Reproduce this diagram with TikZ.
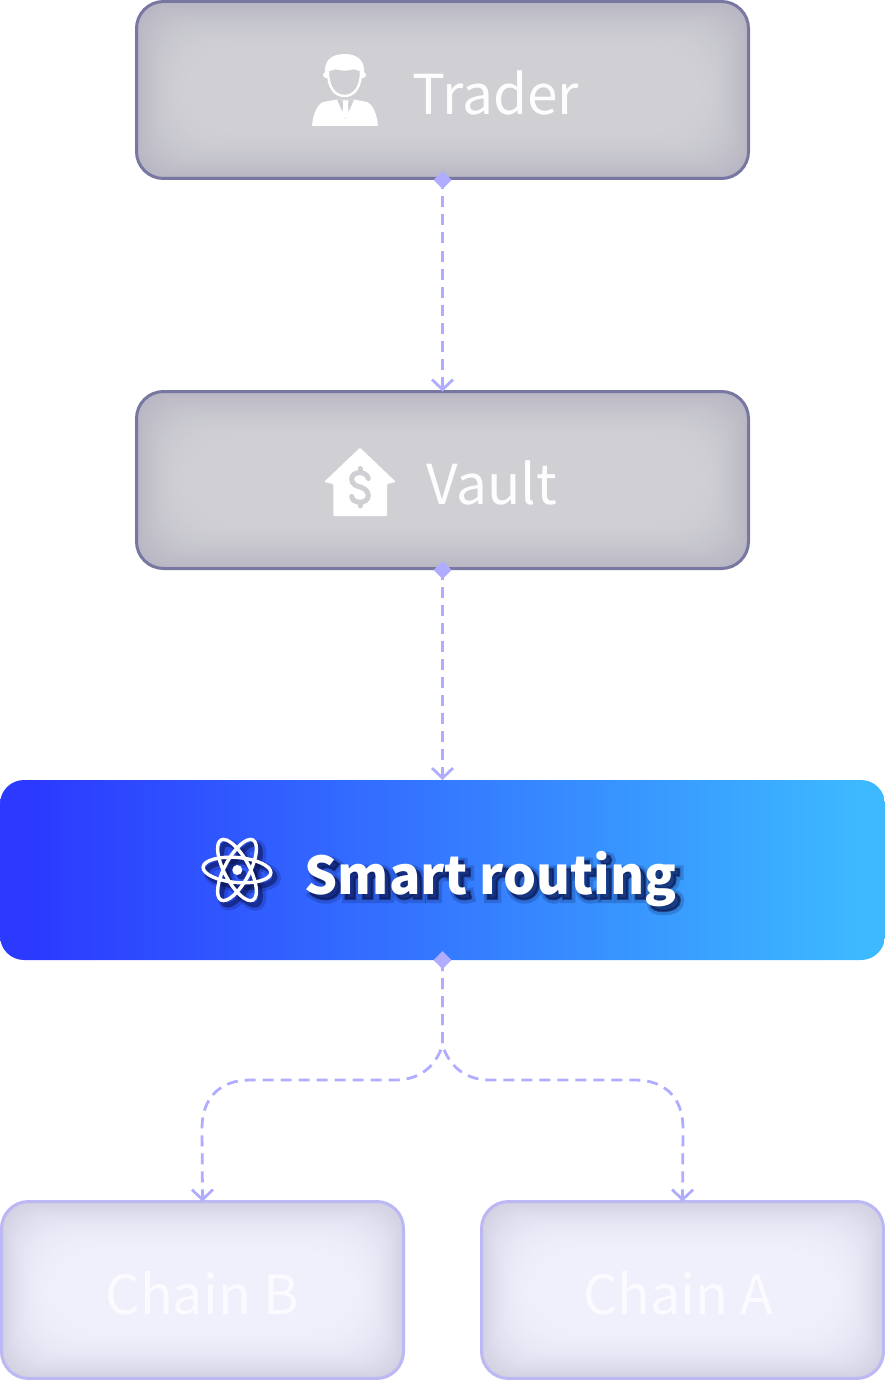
\documentclass[tikz,border=0pt]{standalone}
\usepackage{fontspec}
\setmainfont{Noto Sans CJK SC}
\usetikzlibrary{arrows.meta,shapes.geometric}
\definecolor{flow}{HTML}{B0ACFF}
\definecolor{edgeDark}{HTML}{7877A1}
\definecolor{edgeLight}{HTML}{BBB8F3}
\definecolor{grayA}{HTML}{B7B6C2}
\definecolor{grayB}{HTML}{CFCFD4}
\definecolor{paleA}{HTML}{D1D1E3}
\definecolor{paleB}{HTML}{F0F0FC}
\definecolor{blueL}{HTML}{2C3AFF}
\definecolor{blueR}{HTML}{3DB9FF}
\definecolor{shadowC}{HTML}{081048}
\definecolor{labelA}{HTML}{FDFDFD}
\definecolor{labelB}{HTML}{FAFAFF}
\pgfdeclarehorizontalshading{smartgrad}{100bp}{color(0bp)=(blueL); color(27bp)=(blueL); color(73.5bp)=(blueR); color(100bp)=(blueR)}
\newcommand{\glowfill}[6]{%
  \foreach \i in {0,...,22}{%
    \pgfmathsetmacro{\ins}{2.4*\i}%
    \pgfmathsetmacro{\p}{100*(1-(1-\i/22)^2)}%
    \pgfmathsetmacro{\rr}{27+1.4*\i}%
    \fill[#5!\p!#6,rounded corners=\rr pt] ({#1+\ins},{#2+\ins}) rectangle ({#3-\ins},{#4-\ins});
  }%
}
\newcommand{\atomshape}[2]{%
  \draw[#1,line width=#2pt] (237,870) ellipse[x radius=34,y radius=12.5,rotate=-5];
  \draw[#1,line width=#2pt] (237,870) ellipse[x radius=34,y radius=12.5,rotate=62];
  \draw[#1,line width=#2pt] (237,870) ellipse[x radius=34,y radius=12.5,rotate=118];
  \fill[#1] (237.3,870) circle (5);
}
\tikzset{
  card/.style={rounded corners=27pt,line width=3pt,minimum height=177pt,inner sep=0pt,outer sep=0pt},
  darkcard/.style={card,draw=edgeDark,minimum width=612pt},
  lightcard/.style={card,draw=edgeLight,minimum width=402pt},
  port/.style={diamond,fill=flow,minimum width=18pt,minimum height=18pt,inner sep=0pt,outer sep=0pt},
  flowline/.style={draw=flow,line width=2.8pt,dash pattern=on 11pt off 7pt,-{Straight Barb[length=10pt,width=21pt,line width=2.8pt]}},
  label/.style={font=\fontsize{55}{60}\selectfont,anchor=base west,inner sep=0pt},
  chainlabel/.style={label,font=\fontsize{54}{60}\selectfont},
  boldlabel/.style={label,font=\fontsize{52}{60}\selectfont\bfseries},
}
\begin{document}
\begin{tikzpicture}[x=1pt,y=-1pt]
\useasboundingbox (0,0) rectangle (885,1380);
% card fills
\glowfill{136}{1}{749}{179}{grayB}{grayA}
\glowfill{136}{391}{749}{569}{grayB}{grayA}
\glowfill{1}{1201}{404}{1379}{paleB}{paleA}
\glowfill{481}{1201}{884}{1379}{paleB}{paleA}
% cards
\node[darkcard] (trader) at (442.5,90) {};
\node[darkcard] (vault) at (442.5,480) {};
\node[rounded corners=24pt,minimum width=885pt,minimum height=180pt,inner sep=0pt,outer sep=0pt,shade,shading=smartgrad] (smart) at (442.5,870) {};
\node[lightcard] (chainb) at (202.5,1290) {};
\node[lightcard] (chaina) at (682.5,1290) {};
% connectors
\draw[flowline] (trader.south) -- (vault.north);
\draw[flowline] (vault.south) -- (smart.north);
\draw[flowline] (smart.south) -- (442.5,1045) .. controls (436,1066) and (420,1080) .. (395,1080) -- (250,1080) .. controls (220,1080) and (202,1098) .. (202,1128) -- (chainb.north);
\draw[flowline] (smart.south) -- (442.5,1045) .. controls (449,1066) and (465,1080) .. (490,1080) -- (635,1080) .. controls (665,1080) and (683,1098) .. (683,1128) -- (chaina.north);
\node[port] (p1) at ([yshift=-1.5pt]trader.south) {};
\node[port] (p2) at ([yshift=-1.5pt]vault.south) {};
\node[port] (p3) at (smart.south) {};
% person icon
\fill[white] (312,126) .. controls (313,114) and (317,105) .. (323,102) -- (337,99.5) -- (354,99.5) -- (367,102) .. controls (373,105) and (377,114) .. (378,126) -- cycle;
\fill[grayB] (337,99.5) -- (354,99.5) -- (345.5,119) -- cycle;
\fill[white] (342.5,100.5) -- (348.5,100.5) -- (347.8,105) -- (349,115) -- (345.5,118) -- (342,115) -- (343.2,105) -- cycle;
\fill[white] (325,73) .. controls (324,62) and (330,54) .. (344.5,54) .. controls (359,54) and (365,62) .. (364,73) -- (364,74) .. controls (360,71) and (355,68) .. (350,70) .. controls (346,71) and (343,71) .. (339,70) .. controls (335,68) and (329,71) .. (325,74) -- cycle;
\draw[white,line width=2.4pt] (328,72) .. controls (328,86) and (334,96) .. (344.5,96) .. controls (355,96) and (361,86) .. (361,72);
\fill[white] (326,75) circle (3);
\fill[white] (363,75) circle (3);
% house icon
\fill[white,rounded corners=1pt] (360,447.7) -- (396,482) -- (387,484) -- (387,516) -- (333.3,516) -- (333.3,484) -- (324,482) -- cycle;
\draw[grayB,line width=5pt,line cap=round] (368.3,478.5) .. controls (367,474) and (363,472.7) .. (360,472.7) .. controls (355,472.7) and (351.7,475) .. (351.7,479) .. controls (351.7,484) and (356,486) .. (360,487) .. controls (364,488) and (368.3,491) .. (368.3,495.5) .. controls (368.3,500) and (364,502.3) .. (360,502.3) .. controls (356,502.3) and (352,500) .. (351.7,496.5);
\draw[grayB,line width=5pt,line cap=round] (360,468.5) -- (360,472) (360,503) -- (360,506);
% atom icon with its soft shadow
\begin{scope}[shift={(5,5)},opacity=0.2]
  \atomshape{shadowC}{10}
\end{scope}
\begin{scope}[shift={(4,4.5)},opacity=0.5]
  \atomshape{shadowC}{5}
\end{scope}
\atomshape{white}{3.4}
% labels
\node[label,text=labelA] (traderT) at (412,114.5) {Trader};
\node[label,text=labelA] (vaultT) at (426,504.5) {Vault};
\node[boldlabel,text=shadowC,opacity=0.2] (smartS1) at (309,899) {\special{pdf:code 2 Tr 8 w}Smart routing};
\node[boldlabel,text=shadowC,opacity=0.5] (smartS2) at (308.5,898.5) {\special{pdf:code 2 Tr 2.5 w}Smart routing};
\node[boldlabel,text=white] (smartT) at (304.5,894) {\special{pdf:code 0 Tr}Smart routing};
\node[chainlabel,text=labelB] (chainbT) at (105.5,1314) {Chain B};
\node[chainlabel,text=labelB] (chainaT) at (583,1314) {Chain A};
\end{tikzpicture}
\end{document}
